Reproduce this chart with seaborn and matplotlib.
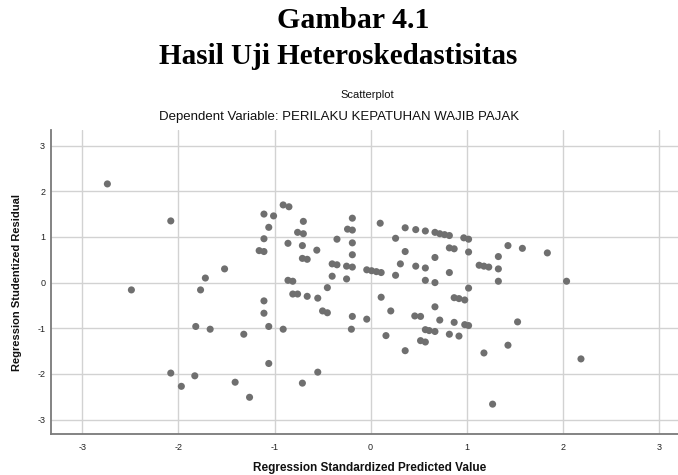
import matplotlib
matplotlib.use("Agg")
import matplotlib.pyplot as plt
import seaborn as sns
import pandas as pd

predicted = [
    -2.74, -2.08, -2.49, -1.52, -1.72, -1.77, -1.16, -1.82, -1.67, -1.32,
    -2.08, -1.97, -1.83, -1.41, -1.26, -1.11, -1.11, -1.06, -0.91, -1.06,
    -0.71, -0.55, -0.86, -0.81, -0.81, -0.76, -0.66, -0.55, -0.50, -0.45,
    -0.45, -0.40, -0.40, -0.35, -0.25, -0.25, -0.19, -0.19, -0.19, -0.20,
    -0.04, -0.71, -0.66, -0.56, -0.04, 0.01, 0.06, 0.11, 0.11, 0.16,
    0.21, 0.26, 0.31, 0.36, 0.46, 0.52, 0.47, 0.57, 0.57, 0.57,
    0.61, 0.67, 0.52, 0.57, 0.67, 0.67, 0.72, 0.67, 0.82, 0.82,
    0.87, 0.92, 0.98, 0.87, 0.92, 0.98, 1.02, 1.02, 1.02, 1.13,
    1.18, 1.23, 1.33, 1.33, 1.33, 1.18, 1.43, 1.53, 1.27, 2.04,
    2.19, 1.58, 1.43, 1.84, 0.97, 1.02, 0.82, 0.87, 0.67, 0.72,
    0.77, 0.82, -0.91, -0.85, -1.11, -1.01, -1.06, -1.11, -1.11, -0.86,
    -0.70, -0.76, -0.70, -0.71, -0.35, -0.24, -0.19, -0.19, -0.19, 0.10,
    0.26, 0.36, 0.47, 0.57, 0.36,
]
residual = [
    2.16, 1.35, -0.16, 0.30, 0.10, -0.16, 0.70, -0.96, -1.02, -1.13,
    -1.98, -2.27, -2.04, -2.18, -2.51, -0.40, -0.67, -0.96, -1.02, -1.77,
    -2.20, -1.96, 0.05, 0.03, -0.25, -0.25, -0.30, -0.34, -0.62, -0.66,
    -0.11, 0.14, 0.41, 0.39, 0.08, 0.36, 0.34, 0.61, -0.74, -1.02,
    -0.80, 0.53, 0.51, 0.71, 0.28, 0.26, 0.24, 0.22, -0.32, -1.16,
    -0.62, 0.16, 0.41, -1.49, -0.73, -0.74, 0.36, 0.32, 0.05, -1.03,
    -1.05, -1.07, -1.27, -1.30, 0.00, -0.53, -0.82, 0.55, 0.22, -1.13,
    -0.33, -0.35, -0.38, -0.87, -1.17, -0.92, -0.94, -0.12, 0.67, 0.38,
    0.36, 0.34, 0.57, 0.30, 0.03, -1.54, -1.37, -0.86, -2.66, 0.03,
    -1.67, 0.75, 0.81, 0.65, 0.98, 0.95, 0.76, 0.74, 1.10, 1.07,
    1.05, 1.03, 1.70, 1.66, 1.50, 1.46, 1.21, 0.96, 0.68, 0.86,
    1.34, 1.10, 1.07, 0.81, 0.95, 1.17, 1.15, 1.41, 0.87, 1.30,
    0.97, 1.20, 1.16, 1.13, 0.68,
]
ticks = [-3, -2, -1, 0, 1, 2, 3]

df = pd.DataFrame({"pred": predicted, "resid": residual})

sns.set_theme(style="white")
plt.rcParams["font.family"] = ["Liberation Sans", "DejaVu Sans"]

fig = plt.figure(figsize=(6.78, 4.75), dpi=100)
ax = fig.add_axes([50.7 / 678, (475 - 434.3) / 475, (678 - 50.7) / 678, (434.3 - 130) / 475])

sns.scatterplot(data=df, x="pred", y="resid", ax=ax, color="#6f6f6f",
                s=26, edgecolor="none", zorder=3)

ax.set_xlim(-3.33, 3.2)
ax.set_ylim(-3.32, 3.34)
ax.set_xticks(ticks)
ax.set_yticks(ticks)
ax.set_xticklabels([str(t) for t in ticks])
ax.set_yticklabels([str(t) for t in ticks])
ax.grid(True, color="#d2d2d2", linewidth=1.0, zorder=0)
ax.set_axisbelow(True)
for side in ["top", "right"]:
    ax.spines[side].set_visible(False)
for side in ["left", "bottom"]:
    ax.spines[side].set_color("#7a7a7a")
    ax.spines[side].set_linewidth(1.3)
ax.tick_params(axis="both", length=0, labelsize=6.5, colors="#222222")
ax.tick_params(axis="y", pad=4)
ax.tick_params(axis="x", pad=6)

ax.set_xlabel("Regression Standardized Predicted Value", fontsize=8.5,
              fontweight="bold", color="#111111")
ax.set_ylabel("Regression Studentized Residual", fontsize=8,
              fontweight="bold", color="#111111")
ax.xaxis.set_label_coords(0.509, -0.111)
ax.xaxis.label.set_va("center")
ax.yaxis.set_label_coords(-0.054, 0.5)
ax.yaxis.label.set_va("center")

serif = ["Liberation Serif", "DejaVu Serif"]
fig.text(353 / 678, 1 - 20 / 475, "Gambar 4.1", ha="center", va="center",
         fontsize=21.5, fontweight="bold", family=serif, color="black")
fig.text(338 / 678, 1 - 57 / 475, "Hasil Uji Heteroskedastisitas", ha="center",
         va="center", fontsize=21, fontweight="bold", family=serif, color="black")
fig.text(367 / 678, 1 - 95 / 475, "Scatterplot", ha="center", va="center",
         fontsize=8, color="#111111")
fig.text(339 / 678, 1 - 117 / 475, "Dependent Variable: PERILAKU KEPATUHAN WAJIB PAJAK",
         ha="center", va="center", fontsize=9.5, color="#111111")

fig.savefig("out.png", dpi=100)
